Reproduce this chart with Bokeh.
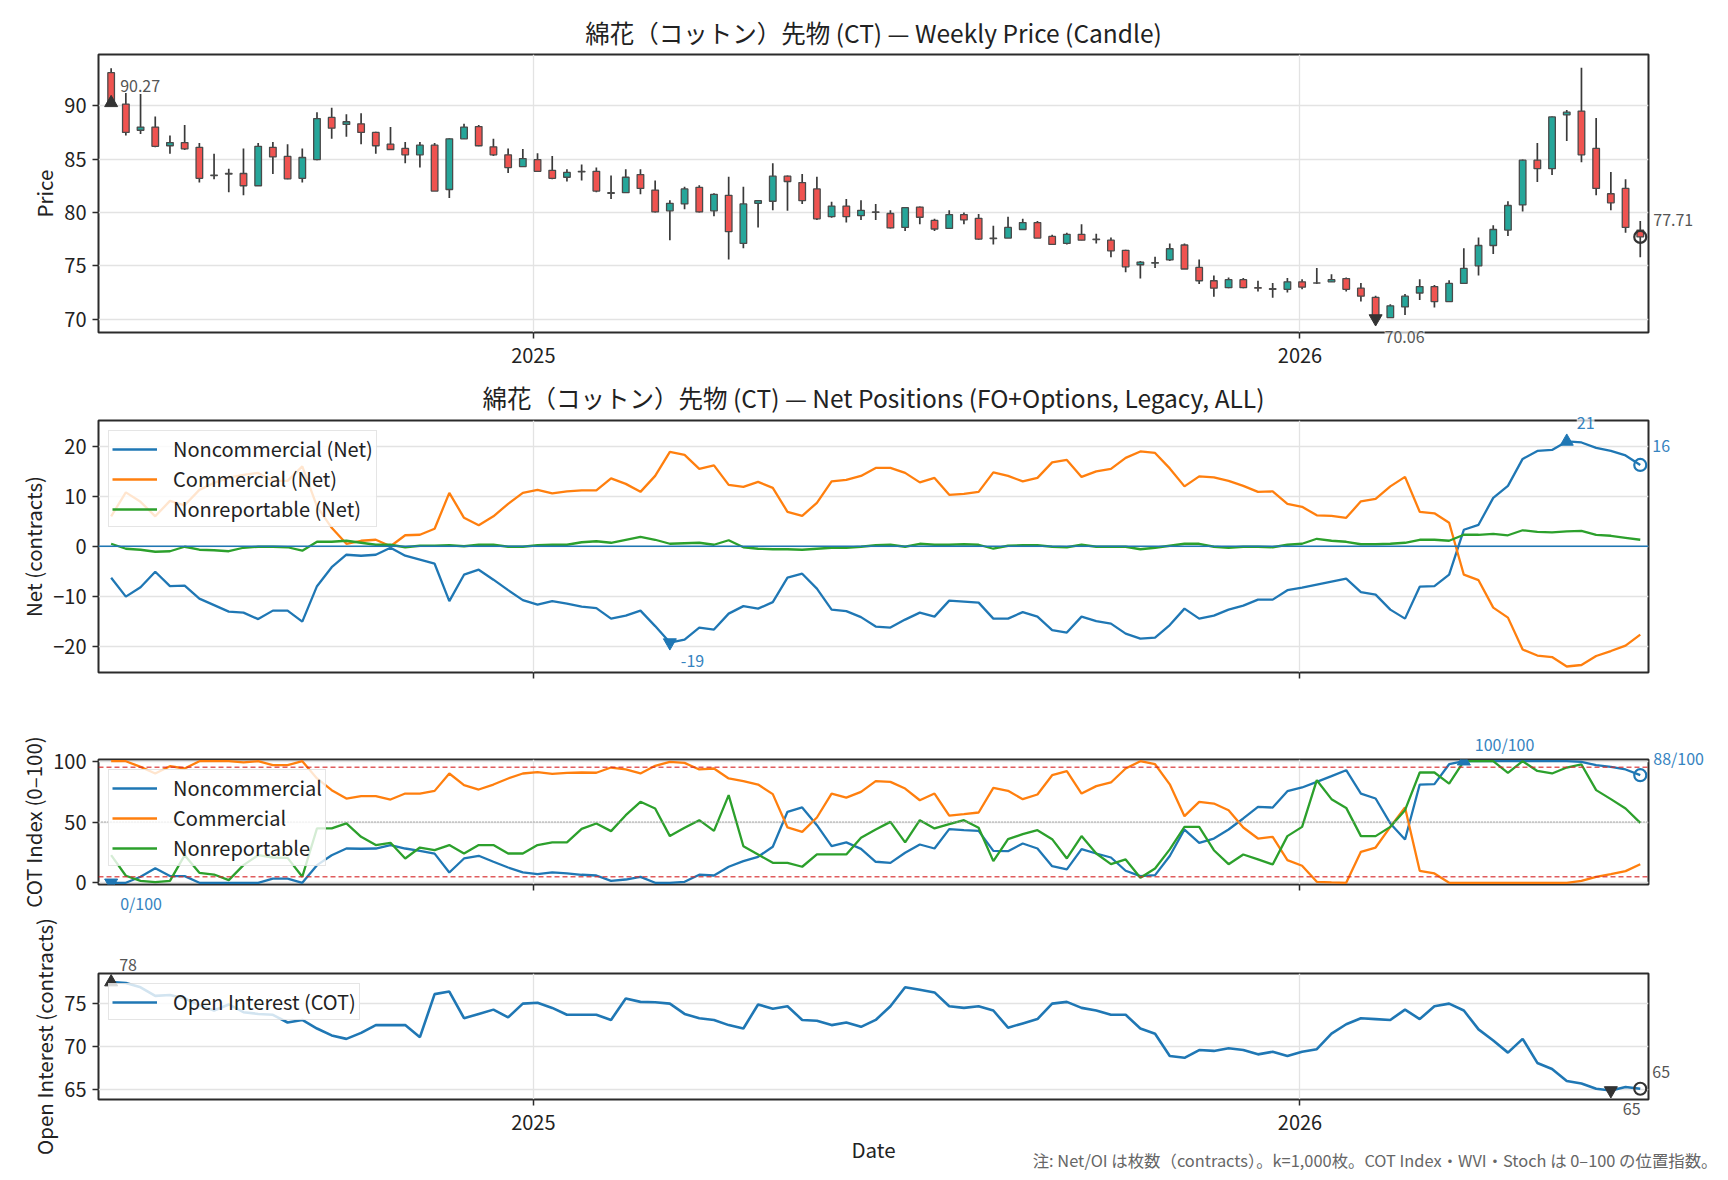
import numpy as np
import pandas as pd
from bokeh.plotting import figure
from bokeh.layouts import column
from bokeh.models import Range1d, FixedTicker, Legend, LegendItem, Label, Span
from bokeh.embed import file_html
from bokeh.resources import INLINE

# ---------------- data ----------------
week_start = "2024-06-14"
n_weeks = 105

price_open = [93.1, 90.15, 87.7, 88.0, 86.25, 86.55, 86.1, 83.45, 83.65, 83.65,
              82.5, 86.1, 85.25, 83.2, 84.95, 88.9, 88.25, 88.3, 87.5, 86.4,
              86.0, 85.4, 86.3, 82.15, 86.9, 88.05, 86.15, 85.4, 84.3, 84.95,
              83.95, 83.3, 83.8, 83.85, 81.8, 81.85, 83.55, 82.1, 80.15, 80.8,
              82.35, 80.15, 81.6, 77.1, 80.85, 81.05, 83.4, 82.8, 82.2, 79.6,
              80.6, 79.7, 80.05, 79.9, 78.6, 80.5, 79.25, 78.5, 79.8, 79.45,
              77.6, 77.6, 78.4, 79.05, 77.75, 77.1, 77.95, 77.5, 77.4, 76.45,
              75.1, 75.25, 75.55, 76.95, 74.85, 73.6, 72.95, 73.7, 72.95, 72.85,
              72.8, 73.5, 73.4, 73.5, 73.8, 72.9, 72.05, 70.15, 71.15, 72.45,
              73.05, 71.65, 73.35, 75.0, 76.9, 78.35, 80.7, 84.9, 84.1, 89.15,
              89.5, 86.0, 81.75, 82.25, 78.35]
price_high = [93.5, 91.2, 91.1, 89.0, 87.2, 88.2, 86.5, 85.5, 84.1, 86.0,
              86.5, 86.6, 86.4, 86.0, 89.4, 89.8, 89.2, 89.3, 87.55, 88.0,
              86.6, 86.6, 86.5, 86.95, 88.3, 88.2, 86.9, 86.0, 85.95, 85.55,
              85.3, 84.05, 84.5, 84.2, 83.45, 84.05, 84.05, 83.0, 81.15, 82.4,
              82.55, 81.8, 83.35, 82.4, 81.15, 84.6, 83.45, 83.6, 83.35, 81.0,
              81.25, 81.15, 80.8, 80.2, 80.5, 80.55, 79.4, 80.2, 80.0, 79.85,
              78.75, 79.6, 79.4, 79.2, 77.9, 78.1, 78.9, 78.0, 77.65, 76.5,
              75.45, 75.85, 77.1, 77.1, 75.6, 74.1, 73.9, 73.85, 73.6, 73.4,
              73.85, 73.75, 74.8, 74.2, 73.9, 73.4, 72.2, 71.4, 72.35, 73.75,
              73.2, 73.65, 76.65, 77.65, 78.8, 81.05, 84.95, 86.5, 89.0, 89.6,
              93.55, 88.85, 83.8, 83.1, 79.2]
price_low = [90.1, 87.2, 87.35, 86.1, 85.5, 85.85, 82.8, 83.1, 81.9, 81.6,
             82.5, 83.6, 83.1, 82.8, 84.9, 86.9, 87.1, 86.4, 85.5, 85.85,
             84.6, 84.2, 82.0, 81.35, 86.9, 86.2, 85.3, 83.7, 84.3, 83.8,
             83.1, 82.9, 83.0, 81.9, 81.25, 81.85, 81.7, 80.0, 77.4, 80.3,
             80.0, 79.65, 75.6, 76.65, 78.6, 80.2, 80.15, 80.8, 79.3, 79.5,
             79.05, 79.3, 79.3, 78.5, 78.25, 78.9, 78.25, 78.45, 78.9, 77.45,
             77.0, 77.6, 78.35, 77.6, 76.95, 77.0, 77.4, 77.1, 75.8, 74.4,
             73.8, 74.8, 75.45, 74.7, 73.3, 72.1, 72.9, 72.9, 72.6, 72.0,
             72.5, 72.8, 73.3, 73.5, 72.6, 71.65, 70.0, 70.1, 70.4, 71.8,
             71.1, 71.6, 73.3, 74.1, 76.1, 77.8, 80.1, 82.85, 83.5, 86.7,
             84.7, 81.6, 80.2, 78.1, 75.8]
price_close = [90.27, 87.5, 88.0, 86.2, 86.55, 85.95, 83.2, 83.5, 83.6, 82.5,
               86.2, 85.2, 83.15, 85.15, 88.8, 87.9, 88.5, 87.5, 86.25, 85.9,
               85.4, 86.3, 82.0, 86.9, 88.0, 86.25, 85.4, 84.2, 85.05, 83.85,
               83.2, 83.75, 83.85, 82.0, 81.85, 83.3, 82.25, 80.05, 80.85, 82.2,
               80.05, 81.7, 78.2, 80.8, 81.1, 83.4, 82.9, 81.1, 79.4, 80.6,
               79.6, 80.2, 80.0, 78.55, 80.45, 79.55, 78.45, 79.8, 79.3, 77.5,
               77.55, 78.6, 79.05, 77.6, 77.0, 77.95, 77.4, 77.45, 76.4, 74.9,
               75.35, 75.3, 76.6, 74.7, 73.6, 72.9, 73.7, 72.95, 72.9, 72.8,
               73.5, 73.0, 73.38, 73.7, 72.8, 72.15, 70.06, 71.25, 72.15, 73.05,
               71.65, 73.35, 74.75, 76.9, 78.4, 80.65, 84.9, 84.1, 88.95, 89.4,
               85.4, 82.25, 80.9, 78.6, 77.71]

net_noncomm = [-6.3, -10.1, -8.2, -5.1, -8.0, -7.9, -10.5, -11.8, -13.1, -13.3,
               -14.6, -12.9, -12.9, -15.1, -8.0, -4.2, -1.7, -1.9, -1.7, -0.3,
               -1.9, -2.7, -3.5, -11.0, -5.7, -4.7, -6.7, -8.8, -10.8, -11.7,
               -11.0, -11.5, -12.1, -12.4, -14.5, -13.9, -12.9, -16.0, -19.3, -18.7,
               -16.3, -16.7, -13.5, -12.0, -12.5, -11.2, -6.3, -5.5, -8.5, -12.7,
               -13.0, -14.2, -16.1, -16.3, -14.7, -13.3, -14.1, -10.9, -11.1, -11.3,
               -14.5, -14.5, -13.2, -14.1, -16.8, -17.3, -14.1, -15.0, -15.5, -17.5,
               -18.5, -18.3, -15.8, -12.5, -14.5, -13.9, -12.7, -11.9, -10.7, -10.7,
               -8.8, -8.3, -7.7, -7.1, -6.5, -9.2, -9.7, -12.7, -14.5, -8.1,
               -8.0, -5.7, 3.3, 4.3, 9.7, 12.1, 17.5, 19.1, 19.3, 21.0,
               20.8, 19.7, 19.1, 18.2, 16.3]
net_comm = [6.0, 10.8, 8.9, 6.0, 9.1, 8.2, 11.3, 12.7, 13.7, 14.3,
            14.7, 13.1, 13.1, 16.0, 8.0, 3.7, 0.5, 1.1, 1.3, 0.0,
            2.2, 2.3, 3.5, 10.7, 5.7, 4.2, 6.0, 8.5, 10.7, 11.3,
            10.6, 11.0, 11.2, 11.2, 13.6, 12.5, 10.9, 14.1, 18.9, 18.3,
            15.5, 16.2, 12.3, 11.9, 12.9, 11.7, 6.9, 6.1, 8.7, 13.0,
            13.3, 14.1, 15.7, 15.7, 14.7, 12.8, 13.7, 10.3, 10.5, 10.9,
            14.8, 14.1, 13.0, 13.7, 16.8, 17.3, 13.9, 15.0, 15.5, 17.7,
            19.0, 18.7, 15.6, 12.0, 14.0, 13.8, 13.1, 12.1, 10.9, 11.0,
            8.5, 7.9, 6.2, 6.1, 5.7, 9.0, 9.5, 12.0, 13.9, 6.9,
            6.6, 4.7, -5.7, -6.8, -12.3, -14.3, -20.7, -21.9, -22.2, -24.1,
            -23.8, -22.0, -21.0, -19.9, -17.7]
net_nonrep = [0.5, -0.5, -0.7, -1.1, -1.0, -0.1, -0.7, -0.8, -1.0, -0.3,
              -0.1, -0.1, -0.2, -0.9, 0.9, 0.9, 1.1, 0.7, 0.3, 0.3,
              -0.2, 0.1, 0.1, 0.2, 0.0, 0.3, 0.3, -0.1, -0.1, 0.2,
              0.3, 0.3, 0.8, 1.0, 0.7, 1.3, 1.9, 1.3, 0.5, 0.6,
              0.7, 0.3, 1.2, -0.2, -0.5, -0.6, -0.6, -0.7, -0.5, -0.3,
              -0.3, -0.1, 0.2, 0.3, -0.1, 0.5, 0.3, 0.3, 0.4, 0.3,
              -0.5, 0.1, 0.2, 0.2, -0.1, -0.2, 0.3, -0.1, -0.1, -0.1,
              -0.6, -0.3, 0.1, 0.5, 0.5, -0.1, -0.3, -0.1, -0.1, -0.2,
              0.3, 0.5, 1.5, 1.1, 0.9, 0.4, 0.4, 0.5, 0.7, 1.3,
              1.3, 1.1, 2.3, 2.3, 2.5, 2.2, 3.2, 2.9, 2.8, 3.0,
              3.1, 2.3, 2.1, 1.7, 1.3]

idx_noncomm = [0, 0, 5, 12, 5.5, 5.5, 0, 0, 0, 0,
               0, 3.5, 3.5, 0, 14.5, 22.7, 28.2, 28, 28.2, 31,
               28.2, 26.3, 24, 8.5, 20, 22.2, 17.3, 12.6, 8.5, 7.1,
               8.5, 7.7, 6.6, 6, 1.6, 2.7, 4.9, 0, 0, 0.8,
               6.6, 6, 13.2, 17.8, 21.4, 29.6, 58.4, 62, 47.4, 30.1,
               33.2, 27.9, 17.3, 16.4, 24.7, 31.5, 28.2, 44.1, 43.3, 42.7,
               26.3, 26, 32.3, 28.2, 13.7, 11, 27.7, 24.1, 20.8, 9.9,
               5.5, 6.3, 22, 43.8, 32.9, 36.4, 43.8, 52.9, 62.5, 61.9,
               75.3, 78.4, 83, 87.7, 92.6, 73.4, 69.3, 48.8, 35.6, 80.8,
               81.1, 97.5, 100, 100, 100, 100, 100, 100, 100, 100,
               99.5, 96.7, 95.3, 93.2, 88.5]
idx_comm = [100, 100, 95.3, 89.9, 95.9, 94, 100, 100, 100, 99,
            100, 96.7, 96.7, 100, 85.8, 76.2, 69.3, 71.2, 71.2, 68.5,
            73.4, 73.4, 75.6, 89.9, 80.3, 76.7, 80.8, 85.8, 89.9, 91,
            89.6, 90.4, 90.7, 90.5, 94.8, 93.2, 89.9, 96.2, 99.5, 98.6,
            93.2, 94, 85.8, 83.6, 80.8, 72.9, 45.5, 41.9, 53.7, 73.4,
            70.1, 74.8, 83.6, 83, 77.5, 67.9, 73.4, 55.3, 56.4, 57.8,
            78.1, 75.6, 68.8, 72.6, 88.5, 91.8, 73.4, 79.5, 82.5, 94,
            100, 97.5, 81, 54.8, 66.6, 65.2, 59.7, 45.5, 36.4, 37.8,
            18.6, 14, 0.8, 0.3, 0, 25.5, 29, 46, 61.9, 9.9,
            7.7, 0, 0, 0, 0, 0, 0, 0, 0, 0,
            1.6, 4.9, 7.1, 9.6, 15.3]
idx_nonrep = [22.7, 5.8, 1.6, 0.5, 1.6, 22.7, 8.2, 6.8, 2.2, 14.5,
              22.7, 20.8, 20.5, 5, 44.7, 44.7, 48.8, 37.8, 31, 32.9,
              20, 29, 26.8, 31, 24.1, 31, 31, 24.1, 24.1, 31,
              33.2, 33.2, 44.3, 48.8, 42.5, 55.6, 66.6, 61.1, 38.4, 45.2,
              51.5, 42.7, 72.1, 30.1, 23.3, 16.4, 16.4, 13.2, 23.3, 23.3,
              23.3, 37, 43.8, 50.1, 33.2, 51.5, 44.7, 48.2, 51.5, 45.2,
              17.8, 35.9, 40, 43.3, 35.9, 20, 38.4, 24.1, 15.3, 19.2,
              4.1, 11.8, 27.5, 46, 46, 26.8, 15.3, 23.3, 19.2, 15.1,
              38.4, 46, 84.4, 68.8, 61.6, 38.4, 38.4, 46, 59.7, 90.7,
              90.7, 81.6, 100, 100, 100, 90.4, 100, 92, 89.9, 94.8,
              97.3, 76.2, 68.8, 61.1, 49.3]

open_interest = [77.5, 77.4, 76.9, 75.9, 76.0, 75.6, 74.8, 74.2, 74.9, 74.0,
                 73.8, 73.7, 72.8, 73.1, 72.1, 71.3, 70.9, 71.6, 72.5, 72.5,
                 72.5, 71.1, 76.1, 76.4, 73.3, 73.8, 74.3, 73.4, 75.0, 75.1,
                 74.5, 73.7, 73.7, 73.7, 73.1, 75.6, 75.2, 75.15, 75.0, 73.8,
                 73.3, 73.1, 72.5, 72.1, 74.9, 74.4, 74.7, 73.1, 73.0, 72.5,
                 72.8, 72.3, 73.1, 74.7, 76.9, 76.6, 76.3, 74.7, 74.5, 74.7,
                 74.2, 72.2, 72.7, 73.2, 75.0, 75.2, 74.5, 74.2, 73.7, 73.7,
                 72.1, 71.5, 68.9, 68.7, 69.6, 69.5, 69.8, 69.6, 69.1, 69.4,
                 68.9, 69.4, 69.7, 71.5, 72.6, 73.3, 73.2, 73.1, 74.3, 73.2,
                 74.7, 75.0, 74.2, 72.0, 70.7, 69.3, 70.9, 68.1, 67.4, 66.0,
                 65.7, 65.1, 64.9, 65.3, 65.1]

year_ticks = ["2025-01-01", "2026-01-01"]
year_labels = ["2025", "2026"]
price_ticks = [70, 75, 80, 85, 90]
net_ticks = [-20, -10, 0, 10, 20]
idx_ticks = [0, 50, 100]
oi_ticks = [65, 70, 75]

title_price = "綿花（コットン）先物 (CT) — Weekly Price (Candle)"
title_net = "綿花（コットン）先物 (CT) — Net Positions (FO+Options, Legacy, ALL)"
footnote = "注: Net/OI は枚数（contracts）。k=1,000枚。COT Index・WVI・Stoch は 0–100 の位置指数。"

# ---------------- style ----------------
FONT = "Noto Sans CJK JP"
BLUE, ORANGE, GREEN = "#1f77b4", "#ff7f0e", "#2ca02c"
UP, DOWN = "#26a69a", "#ef5350"
DARK = "#2b2b2b"
TAGBLUE = "#3583c0"
TAGGRAY = "#555555"
W = 1728
BL, BR = 98, 79
DAY = 86400000.0
WEEK = 7 * DAY

dates = pd.date_range(week_start, periods=n_weeks, freq="7D")
xms = (dates.asi8 // 10**6).astype(float)
x0 = xms[0] - 0.86 * WEEK
x1 = xms[-1] + 0.56 * WEEK
xr = Range1d(x0, x1)
tick_ms = [int(pd.Timestamp(t).value // 10**6) for t in year_ticks]


def make_fig(h, top, bottom, yr, yticks, ylabel, title=None, title_standoff=9,
             show_x=False, xlabel=None):
    kw = dict(width=W, height=h, x_axis_type="datetime", x_range=xr,
              y_range=Range1d(*yr), output_backend="svg", toolbar_location=None,
              min_border_left=BL, min_border_right=BR, min_border_top=top,
              min_border_bottom=bottom, background_fill_color="white",
              border_fill_color="white")
    if title:
        kw["title"] = title
    p = figure(**kw)
    if title:
        p.title.text_font = FONT
        p.title.text_font_size = "24.5px"
        p.title.text_font_style = "normal"
        p.title.text_color = "#222222"
        p.title.align = "center"
        p.title.standoff = title_standoff
    p.outline_line_color = DARK
    p.outline_line_width = 2
    p.outline_line_alpha = 1
    xt = FixedTicker(ticks=tick_ms)
    yt = FixedTicker(ticks=yticks)
    p.xaxis.ticker = xt
    p.xgrid.ticker = xt
    p.yaxis.ticker = yt
    p.ygrid.ticker = yt
    p.xaxis.major_label_overrides = {t: (lab if show_x else "") for t, lab in zip(tick_ms, year_labels)}
    for ax in (p.xaxis[0], p.yaxis[0]):
        ax.axis_line_color = None
        ax.major_tick_line_color = DARK
        ax.major_tick_line_width = 1.5
        ax.major_tick_out = 6
        ax.major_tick_in = 0
        ax.minor_tick_line_color = None
        ax.major_label_text_font = FONT
        ax.major_label_text_font_size = "20px"
        ax.major_label_text_color = "#222222"
        ax.major_label_standoff = 6
        ax.axis_label_text_font = FONT
        ax.axis_label_text_font_size = "20.5px"
        ax.axis_label_text_font_style = "normal"
        ax.axis_label_text_color = "#222222"
    p.xaxis.major_label_standoff = 9
    if not show_x:
        p.xaxis.major_label_text_font_size = "0px"
    p.yaxis.axis_label = ylabel
    p.yaxis.axis_label_standoff = 2
    if xlabel:
        p.xaxis.axis_label = xlabel
        p.xaxis.axis_label_standoff = 1
    for g in (p.xgrid[0], p.ygrid[0]):
        g.grid_line_color = "#e3e3e3"
        g.grid_line_width = 1.3
    return p


def marker(p, i, yv, kind, color):
    if kind == "o":
        p.scatter(x=[xms[i]], y=[yv], marker="circle", size=12, fill_color=None,
                  line_color=color, line_width=2.2)
    else:
        p.scatter(x=[xms[i]], y=[yv], marker=kind, size=13, color=color)


def tag(p, side, i, yv, text, color, dy, dx=10):
    # labels live in a side panel so they are not clipped to the plot frame;
    # they are still positioned in data coordinates.
    lab = Label(x=xms[i], y=yv, text=text, x_offset=dx, y_offset=dy,
                text_font=FONT, text_font_size="16px", text_color=color,
                text_align="left", text_baseline="middle",
                background_fill_color="white", background_fill_alpha=0.7)
    if side == "center":
        p.add_layout(lab)
    else:
        p.add_layout(lab, side)


def make_legend(items):
    lg = Legend(items=items, location="top_left")
    lg.label_text_font = FONT
    lg.label_text_font_size = "20px"
    lg.label_text_color = "#222222"
    lg.glyph_width = 45
    lg.glyph_height = 22
    lg.label_height = 22
    lg.label_standoff = 16
    lg.spacing = 1
    lg.padding = 3
    lg.margin = 10
    lg.border_line_color = "#cccccc"
    lg.border_line_width = 1.2
    lg.background_fill_color = "white"
    lg.background_fill_alpha = 0.8
    return lg


# ---------------- panel 1: price candles ----------------
o = np.array(price_open)
c = np.array(price_close)
colors = [UP if cc >= oo else DOWN for oo, cc in zip(o, c)]
p1 = make_fig(372, 54, 40, (68.75, 94.8), price_ticks, "Price", title=title_price, show_x=True)
p1.segment(x0=xms, y0=price_low, x1=xms, y1=price_high, line_color="#3a3a3a", line_width=1.7)
p1.vbar(x=xms, width=0.45 * WEEK, top=np.maximum(o, c), bottom=np.minimum(o, c),
        fill_color=colors, line_color="#4a4a4a", line_width=1.3)
imax = int(np.argmax(c))
imin = int(np.argmin(c))
ilast = n_weeks - 1
marker(p1, imax, c[imax], "triangle", "#333333")
marker(p1, imin, c[imin], "inverted_triangle", "#333333")
marker(p1, ilast, c[ilast], "o", "#333333")
tag(p1, "center", imax, c[imax], f"{c[imax]:.2f}", TAGGRAY, 17, 9)
tag(p1, "right", imin, c[imin], f"{c[imin]:.2f}", TAGGRAY, -18, 9)
tag(p1, "right", ilast, c[ilast], f"{c[ilast]:.2f}", TAGGRAY, 17, 13)

# ---------------- panel 2: net positions ----------------
p2 = make_fig(338, 47, 38, (-25.3, 25.2), net_ticks, "Net (contracts)", title=title_net,
              title_standoff=11)
r_nc = p2.line(xms, net_noncomm, line_color=BLUE, line_width=2.3)
r_cm = p2.line(xms, net_comm, line_color=ORANGE, line_width=2.3)
r_nr = p2.line(xms, net_nonrep, line_color=GREEN, line_width=2.3)
p2.add_layout(Span(location=0, dimension="width", line_color=BLUE, line_width=1.6))
nc = np.array(net_noncomm)
jmax, jmin = int(np.argmax(nc)), int(np.argmin(nc))
marker(p2, jmax, nc[jmax], "triangle", BLUE)
marker(p2, jmin, nc[jmin], "inverted_triangle", BLUE)
marker(p2, ilast, nc[ilast], "o", BLUE)
tag(p2, "right", jmax, nc[jmax], f"{nc[jmax]:.0f}", TAGBLUE, 18)
tag(p2, "right", jmin, nc[jmin], f"{nc[jmin]:.0f}", TAGBLUE, -18, 11)
tag(p2, "right", ilast, nc[ilast], f"{nc[ilast]:.0f}", TAGBLUE, 19, 12)
p2.add_layout(make_legend([
    LegendItem(label="Noncommercial (Net)", renderers=[r_nc]),
    LegendItem(label="Commercial (Net)", renderers=[r_cm]),
    LegendItem(label="Nonreportable (Net)", renderers=[r_nr]),
]))

# ---------------- panel 3: COT index ----------------
p3 = make_fig(204, 49, 30, (-1.4, 101.4), idx_ticks, "COT Index (0–100)")
for lvl in (95, 5):
    p3.add_layout(Span(location=lvl, dimension="width", line_color="#d62728", line_alpha=0.75,
                       line_dash="5 3", line_width=1.6))
p3.add_layout(Span(location=50, dimension="width", line_color="#999999", line_dash="1 2",
                   line_width=1.6))
s_nc = p3.line(xms, idx_noncomm, line_color=BLUE, line_width=2.3)
s_cm = p3.line(xms, idx_comm, line_color=ORANGE, line_width=2.3)
s_nr = p3.line(xms, idx_nonrep, line_color=GREEN, line_width=2.3)
ic = np.array(idx_noncomm)
kmin = int(np.argmin(ic))
kmax = int(np.argmax(ic))
marker(p3, kmin, ic[kmin], "inverted_triangle", BLUE)
marker(p3, kmax, ic[kmax], "triangle", BLUE)
marker(p3, ilast, ic[ilast], "o", BLUE)
tag(p3, "above", kmin, ic[kmin], f"{ic[kmin]:.0f}/100", TAGBLUE, -20, 9)
tag(p3, "above", kmax, ic[kmax], f"{ic[kmax]:.0f}/100", TAGBLUE, 17, 11)
tag(p3, "right", ilast, ic[ilast], f"{int(ic[ilast])}/100", TAGBLUE, 17, 13)
p3.add_layout(make_legend([
    LegendItem(label="Noncommercial", renderers=[s_nc]),
    LegendItem(label="Commercial", renderers=[s_cm]),
    LegendItem(label="Nonreportable", renderers=[s_nr]),
]))

# ---------------- panel 4: open interest ----------------
oi_range = (63.85, 78.5)
p4 = make_fig(266, 59, 81, oi_range, oi_ticks, "Open Interest (contracts)", show_x=True, xlabel="Date")
r_oi = p4.line(xms, open_interest, line_color=BLUE, line_width=2.6)
oi = np.array(open_interest)
mmax, mmin = int(np.argmax(oi)), int(np.argmin(oi))
marker(p4, mmax, oi[mmax], "triangle", "#333333")
marker(p4, mmin, oi[mmin], "inverted_triangle", "#333333")
marker(p4, ilast, oi[ilast], "o", "#333333")
tag(p4, "right", mmax, oi[mmax], f"{oi[mmax]:.0f}", TAGGRAY, 17, 8)
tag(p4, "right", mmin, oi[mmin], f"{oi[mmin]:.0f}", TAGGRAY, -19, 12)
tag(p4, "right", ilast, oi[ilast], f"{oi[ilast]:.0f}", TAGGRAY, 17, 12)
p4.add_layout(make_legend([LegendItem(label="Open Interest (COT)", renderers=[r_oi])]))

# footnote: right-aligned near the page edge, below the bottom axis
frame_w = W - BL - BR
fx = x0 + (1718 - BL) / frame_w * (x1 - x0)
fy = oi_range[0] - 60.0 / 126.0 * (oi_range[1] - oi_range[0])
p4.add_layout(Label(x=fx, y=fy, text=footnote, text_font=FONT, text_font_size="16.4px",
                    text_color="#666666", text_align="right", text_baseline="middle"), "above")

layout = column(p1, p2, p3, p4, spacing=0)
open("out.html", "w").write(file_html(layout, INLINE))
